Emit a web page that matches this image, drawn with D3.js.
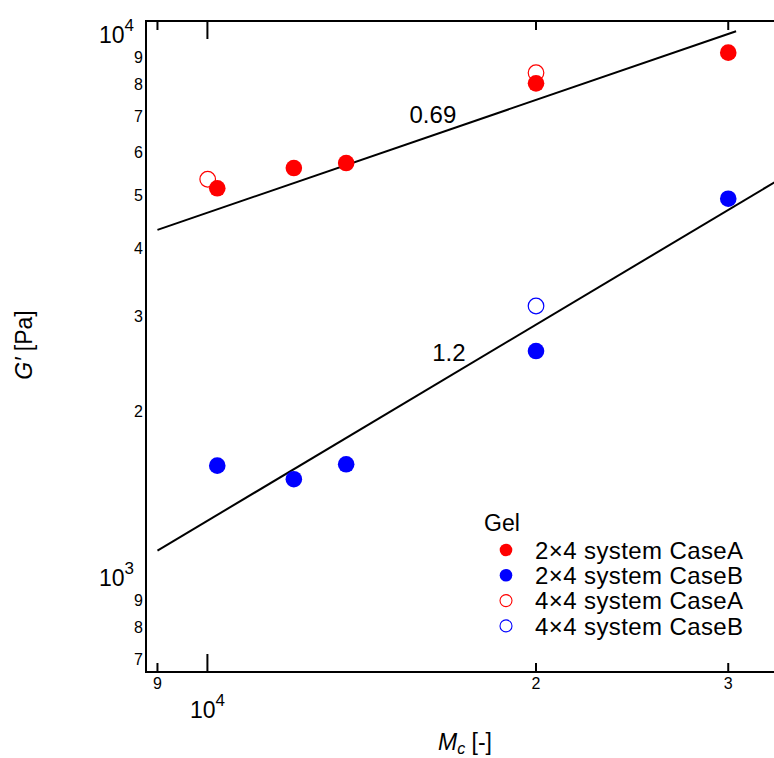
<!DOCTYPE html>
<html>
<head>
<meta charset="utf-8">
<script src="https://cdn.jsdelivr.net/npm/d3@7"></script>
<style>
  body { margin: 0; background: #fff; }
  text { font-family: "Liberation Sans", Arial, Helvetica, sans-serif; fill: #000; }
</style>
</head>
<body>
<div id="chart"></div>
<script>
// Mc values and G' values
const mc2x4 = [10210, 12000, 13400, 20000, 30000];
const g2x4CaseA = [5155, 5617, 5738, 8045, 9162];
const g2x4CaseB = [1590, 1501, 1599, 2585, 4932];
const mc4x4A = [10006, 20000];
const g4x4CaseA = [5356, 8415];
const mc4x4B = [20000];
const g4x4CaseB = [3129];

// power law fits: G' = g0 * (Mc / mcStart)^slope
const fitSlopes = [0.69, 1.2];
const fitStartG = [4322, 1109];
const fitRange = [[9000, 30500], [9000, 34000]];
const fitLabels = ['0.69', '1.2'];
const fitLabelAt = [[16090, 6800], [16640, 2478]];

const xTicks = [9000, 10000, 20000, 30000];
const xTickLabels = ['9', '4', '2', '3'];
const yTicks = [700, 800, 900, 1000, 2000, 3000, 4000, 5000, 6000, 7000, 8000, 9000, 10000];

const legendNames = ['2\u00d74 system CaseA', '2\u00d74 system CaseB', '4\u00d74 system CaseA', '4\u00d74 system CaseB'];
const legendColors = ['#ff0000', '#0000ff', '#ff0000', '#0000ff'];
const legendFilled = [true, true, false, false];

const width = 774, height = 758;
const pLeft = 146, pTop = 21, pBottom = 672, pRight = 774;

const svg = d3.select('#chart').append('svg')
  .attr('width', width)
  .attr('height', height);

const x = d3.scaleLog().domain([8785, 33040]).range([pLeft, pRight]);
const y = d3.scaleLog().domain([662.7, 10479]).range([pBottom, pTop]);

svg.append('clipPath').attr('id', 'plot')
  .append('rect').attr('x', pLeft).attr('y', pTop).attr('width', pRight - pLeft).attr('height', pBottom - pTop);

// frame (left, top, bottom)
svg.append('path')
  .attr('d', `M${pRight + 5},${pTop}H${pLeft}V${pBottom}H${pRight + 5}`)
  .attr('fill', 'none').attr('stroke', '#000').attr('stroke-width', 2);

const isMajor = v => Math.abs(Math.log10(v) - Math.round(Math.log10(v))) < 1e-9;

// x ticks, inward on bottom and top
xTicks.forEach((v) => {
  const len = isMajor(v) ? 18 : 9;
  svg.append('line').attr('x1', x(v)).attr('x2', x(v)).attr('y1', pBottom).attr('y2', pBottom - len)
    .attr('stroke', '#000').attr('stroke-width', 2);
  svg.append('line').attr('x1', x(v)).attr('x2', x(v)).attr('y1', pTop).attr('y2', pTop + len)
    .attr('stroke', '#000').attr('stroke-width', 2);
});

xTicks.forEach((v, i) => {
  if (isMajor(v)) {
    const t = svg.append('text').attr('x', x(v)).attr('y', 718).attr('text-anchor', 'middle')
      .style('font-size', '23px');
    t.append('tspan').text('10');
    t.append('tspan').attr('dy', -12).style('font-size', '17px').text(xTickLabels[i]);
  } else {
    svg.append('text').attr('x', x(v)).attr('y', 689).attr('text-anchor', 'middle')
      .style('font-size', '16px').text(xTickLabels[i]);
  }
});

// y tick labels (no tick marks on the left)
yTicks.forEach((v) => {
  if (isMajor(v)) {
    const t = svg.append('text').attr('x', 134).attr('y', y(v) + 11).attr('text-anchor', 'end')
      .style('font-size', '23px');
    t.append('tspan').text('10');
    t.append('tspan').attr('dy', -12).style('font-size', '17px').text(Math.round(Math.log10(v)));
  } else {
    const lead = +String(v)[0];
    svg.append('text').attr('x', 143).attr('y', y(v)).attr('dy', '0.36em').attr('text-anchor', 'end')
      .style('font-size', '16px').text(lead);
  }
});

// axis titles
const xt = svg.append('text').attr('x', 465).attr('y', 750).attr('text-anchor', 'middle')
  .style('font-size', '23px');
xt.append('tspan').style('font-style', 'italic').text('M');
xt.append('tspan').attr('dy', 4).style('font-style', 'italic').style('font-size', '16px').text('c');
xt.append('tspan').attr('dy', -4).text(' [-]');

const yt = svg.append('text').attr('transform', 'translate(32,345) rotate(-90)')
  .attr('text-anchor', 'middle').style('font-size', '23px');
yt.append('tspan').style('font-style', 'italic').text('G\u2032');
yt.append('tspan').text(' [Pa]');

// fit lines
const plot = svg.append('g').attr('clip-path', 'url(#plot)');
const line = d3.line().x(d => x(d[0])).y(d => y(d[1]));
fitSlopes.forEach((s, i) => {
  const pts = fitRange[i].map(m => [m, fitStartG[i] * Math.pow(m / fitRange[i][0], s)]);
  plot.append('path').attr('d', line(pts)).attr('fill', 'none')
    .attr('stroke', '#000').attr('stroke-width', 2);
  svg.append('text').attr('x', x(fitLabelAt[i][0])).attr('y', y(fitLabelAt[i][1]))
    .attr('text-anchor', 'middle').style('font-size', '24px').text(fitLabels[i]);
});

// points
function drawPoints(xs, ys, color, filled) {
  plot.selectAll(null).data(xs).enter().append('circle')
    .attr('cx', d => x(d))
    .attr('cy', (d, i) => y(ys[i]))
    .attr('r', filled ? 8.3 : 7.8)
    .attr('fill', filled ? color : 'none')
    .attr('stroke', filled ? 'none' : color)
    .attr('stroke-width', 1.2);
}
drawPoints(mc4x4A, g4x4CaseA, '#ff0000', false);
drawPoints(mc4x4B, g4x4CaseB, '#0000ff', false);
drawPoints(mc2x4, g2x4CaseA, '#ff0000', true);
drawPoints(mc2x4, g2x4CaseB, '#0000ff', true);

// legend
const lg = svg.append('g').attr('transform', 'translate(484,0)');
lg.append('text').attr('x', 0).attr('y', 531).style('font-size', '23px').text('Gel');
legendNames.forEach((name, i) => {
  const cy = 550 + i * 25.3;
  lg.append('circle').attr('cx', 22).attr('cy', cy).attr('r', legendFilled[i] ? 6.3 : 6)
    .attr('fill', legendFilled[i] ? legendColors[i] : 'none')
    .attr('stroke', legendFilled[i] ? 'none' : legendColors[i]).attr('stroke-width', 1.1);
  lg.append('text').attr('x', 51).attr('y', cy).attr('dy', '0.36em')
    .style('font-size', '24px').style('letter-spacing', '0.4px').text(name);
});
</script>
</body>
</html>
